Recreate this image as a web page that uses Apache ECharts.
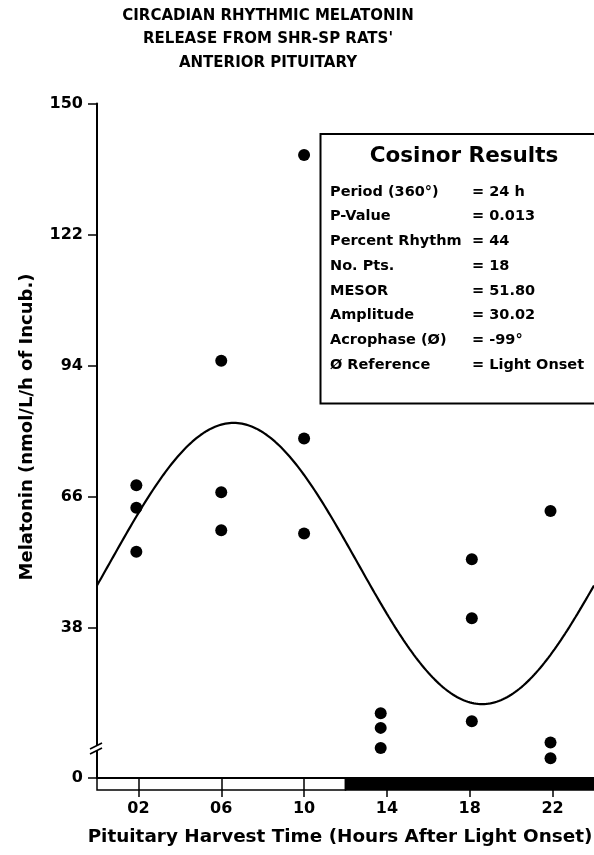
<!DOCTYPE html>
<html>
<head>
<meta charset="utf-8">
<script src="https://cdn.jsdelivr.net/npm/echarts@6/dist/echarts.min.js"></script>
<style>
  html, body { margin: 0; padding: 0; background: #fff; }
  #chart { width: 594px; height: 855px; }
</style>
</head>
<body>
<div id="chart"></div>
<script>
// ---- data -------------------------------------------------------------
const titleLines = ['CIRCADIAN RHYTHMIC MELATONIN', "RELEASE FROM SHR-SP RATS'", 'ANTERIOR PITUITARY'];
const xTitle = 'Pituitary Harvest Time (Hours After Light Onset)';
const yTitle = 'Melatonin (nmol/L/h of Incub.)';

const harvestTicks = [2, 6, 10, 14, 18, 22];          // x tick labels (hours)
const yTickValues = [0, 38, 66, 94, 122, 150];        // y tick labels

// sample times where each group of dots sits (hours after light onset)
const sampleHours = [1.9, 6.0, 10.0, 13.7, 18.1, 21.9];
// melatonin per sample time (axis units)
const at02 = [68.5, 63.7, 54.3];
const at06 = [95.1, 67.0, 58.9];
const at10 = [139.0, 78.5, 58.2];
const at14 = [19.8, 16.7, 12.4];
const at18 = [52.7, 40.1, 18.1];
const at22 = [63.0, 13.6, 10.2];
const groups = [at02, at06, at10, at14, at18, at22];

// light / dark schedule (hours)
const lightPhase = [0, 12];
const darkPhase = [12, 24];

// cosinor fit
const PERIOD_H = 24;
const P_VALUE = '0.013';
const PERCENT_RHYTHM = 44;
const MESOR = 51.80;
const AMPLITUDE = 30.02;
const ACROPHASE_DEG = -99;

// broken axis: the "0" tick sits at this axis position, break drawn at BREAK_AT
const ZERO_POS = 6;
const BREAK_AT = 12.4;

// ---- derived series ---------------------------------------------------
const dots = [];
groups.forEach((vals, i) => vals.forEach(v => dots.push([sampleHours[i], v])));

const curve = [];
for (let k = 0; k <= 240; k++) {
  const t = k / 10;
  curve.push([t, MESOR + AMPLITUDE * Math.cos(2 * Math.PI * t / PERIOD_H + ACROPHASE_DEG * Math.PI / 180)]);
}

const cosinorRows = [
  ['Period (360°)', '= ' + PERIOD_H + ' h'],
  ['P-Value', '= ' + P_VALUE],
  ['Percent Rhythm', '= ' + PERCENT_RHYTHM],
  ['No. Pts.', '= ' + dots.length],
  ['MESOR', '= ' + MESOR.toFixed(2)],
  ['Amplitude', '= ' + AMPLITUDE.toFixed(2)],
  ['Acrophase (Ø)', '= ' + ACROPHASE_DEG + '°'],
  ['Ø Reference', '= Light Onset']
];

// ---- chart ------------------------------------------------------------
const FONT = '"DejaVu Sans", "Liberation Sans", sans-serif';
const chart = echarts.init(document.getElementById('chart'), null, { renderer: 'canvas' });

const yPositions = yTickValues.map(v => (v === 0 ? ZERO_POS : v));

const boxGraphic = [
  { type: 'rect', z: 50, shape: { x: 320.5, y: 134, width: 300, height: 269.5 },
    style: { fill: '#fff', stroke: '#000', lineWidth: 2 } },
  { type: 'text', z: 51, x: 464, y: 156,
    style: { text: 'Cosinor Results', font: 'bold 21.5px ' + FONT, fill: '#000', textAlign: 'center', textVerticalAlign: 'middle' } }
];
cosinorRows.forEach((row, i) => {
  const y = 192 + i * 24.7;
  boxGraphic.push({ type: 'text', z: 51, x: 330, y: y,
    style: { text: row[0], font: 'bold 14.5px ' + FONT, fill: '#000', textAlign: 'left', textVerticalAlign: 'middle' } });
  boxGraphic.push({ type: 'text', z: 51, x: 472, y: y,
    style: { text: row[1], font: 'bold 14.5px ' + FONT, fill: '#000', textAlign: 'left', textVerticalAlign: 'middle' } });
});

const titleGraphic = titleLines.map((line, i) => ({
  type: 'text', x: 268, y: 16 + i * 23.5,
  style: { text: line, font: 'bold 15px ' + FONT, fill: '#000', textAlign: 'center', textVerticalAlign: 'middle' }
}));

const axisTitles = [
  { type: 'text', x: 340, y: 837,
    style: { text: xTitle, font: 'bold 18.4px ' + FONT, fill: '#000', textAlign: 'center', textVerticalAlign: 'middle' } },
  { type: 'text', x: 27, y: 427, rotation: Math.PI / 2,
    style: { text: yTitle, font: 'bold 18px ' + FONT, fill: '#000', textAlign: 'center', textVerticalAlign: 'middle' } }
];

chart.setOption({
  animation: false,
  backgroundColor: '#fff',
  grid: { left: 97, right: 0, top: 103.5, bottom: 77, containLabel: false, outerBoundsMode: 'none' },
  xAxis: {
    type: 'value', min: 0, max: 24,
    axisLine: { show: true, lineStyle: { color: '#000', width: 2 } },
    axisTick: { show: true, customValues: harvestTicks, length: 19, lineStyle: { color: '#000', width: 1.5 } },
    axisLabel: {
      customValues: harvestTicks, margin: 23,
      formatter: v => String(v).padStart(2, '0'),
      color: '#000', fontFamily: FONT, fontWeight: 'bold', fontSize: 16
    },
    splitLine: { show: false }
  },
  yAxis: {
    type: 'value', min: ZERO_POS, max: 150,
    axisLine: { show: true, lineStyle: { color: '#000', width: 2 } },
    axisTick: { show: true, customValues: yPositions, length: 9, lineStyle: { color: '#000', width: 1.5 } },
    axisLabel: {
      customValues: yPositions, margin: 14,
      formatter: v => (v === ZERO_POS ? '0' : String(v)),
      color: '#000', fontFamily: FONT, fontWeight: 'bold', fontSize: 16
    },
    splitLine: { show: false }
  },
  series: [
    {
      // light (open) and dark (filled) bar along the time axis
      type: 'custom', clip: false, silent: true, z: 1,
      data: [[lightPhase[0], lightPhase[1], 0], [darkPhase[0], darkPhase[1], 1]],
      encode: { x: [0, 1] },
      renderItem: (params, api) => {
        const a = api.coord([api.value(0), ZERO_POS]);
        const b = api.coord([api.value(1), ZERO_POS]);
        const dark = api.value(2) === 1;
        return {
          type: 'rect',
          shape: { x: a[0], y: a[1], width: b[0] - a[0], height: 12 },
          style: { fill: dark ? '#000' : 'none', stroke: '#000', lineWidth: 1.5 }
        };
      }
    },
    {
      type: 'line', data: curve, showSymbol: false, smooth: false, silent: true, z: 3,
      lineStyle: { color: '#000', width: 2.2 }
    },
    {
      type: 'scatter', data: dots, symbol: 'circle', symbolSize: 12, z: 4, silent: true,
      itemStyle: { color: '#000', opacity: 1 }
    }
  ],
  graphic: titleGraphic.concat(axisTitles, boxGraphic)
});

// axis break mark ("//") drawn across the y axis at the break value
const bx = chart.convertToPixel({ xAxisIndex: 0 }, 0);
const by = chart.convertToPixel({ yAxisIndex: 0 }, BREAK_AT);
chart.setOption({
  graphic: titleGraphic.concat(axisTitles, boxGraphic, [
    { type: 'rect', z: 60, shape: { x: bx - 2, y: by - 3, width: 4, height: 5 }, style: { fill: '#fff' } },
    { type: 'line', z: 61, shape: { x1: bx - 7, y1: by + 6, x2: bx + 5, y2: by }, style: { stroke: '#000', lineWidth: 1.8 } },
    { type: 'line', z: 61, shape: { x1: bx - 7, y1: by + 1, x2: bx + 5, y2: by - 5 }, style: { stroke: '#000', lineWidth: 1.8 } }
  ])
});
</script>
</body>
</html>
